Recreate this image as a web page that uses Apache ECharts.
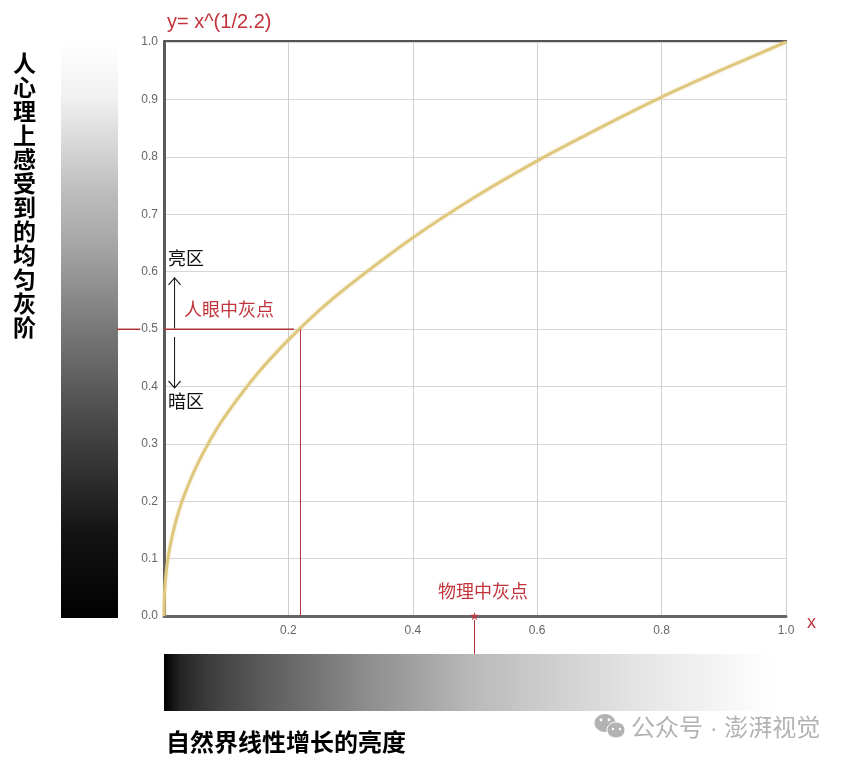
<!DOCTYPE html>
<html><head><meta charset="utf-8">
<style>html,body{margin:0;padding:0;background:#fff}#c{width:847px;height:761px}</style>
<script src="https://cdn.jsdelivr.net/npm/echarts@6/dist/echarts.min.js"></script>
</head><body><div id="c"></div>
<script>
const curveX=[0,0.0005,0.001,0.002,0.005,0.01,0.02,0.03,0.05,0.075,0.1,0.15,0.2,0.25,0.3,0.4,0.5,0.6,0.7,0.8,0.9,1.0];
const curveY=[0,0.031,0.043,0.059,0.090,0.123,0.169,0.203,0.256,0.308,0.351,0.422,0.481,0.533,0.578,0.659,0.730,0.793,0.850,0.904,0.953,1.0];
const eyeGrayX=0.2194, eyeGrayY=0.4995, physGrayX=0.4992;
const upArrow=[[0.017,0.501],[0.017,0.589]];
const downArrow=[[0.017,0.4861],[0.017,0.3972]];
const hGradPos=[0,0.01,0.026,0.08,0.154,0.315,0.5,0.75,0.98,1];
const hGradGray=[0,0.05,0.14,0.25,0.35,0.54,0.73,0.89,1,1];
const vGradPos=[0,0.1,0.15,0.27,0.344,0.5,0.656,0.85,1];
const vGradGray=[1,0.94,0.88,0.73,0.66,0.47,0.29,0.08,0];
const labels={title:'y= x^(1/2.2)',xName:'x',eye:'人眼中灰点',phys:'物理中灰点',bright:'亮区',dark:'暗区',
  yTitle:'人心理上感受到的均匀灰阶',xTitle:'自然界线性增长的亮度',mark:'公众号 · 澎湃视觉'};
const RED='#c1343c', LINE='#b0323a', CJK='"Liberation Sans","Noto Sans CJK SC",sans-serif';
const chevUp='path://M0 10L7 0L14 10', chevDown='path://M0 0L7 10L14 0';
function arrow(pts,sym,off){return{type:'line',data:[pts[0],{value:pts[1],symbol:sym,symbolSize:[12,7],symbolOffset:[0,off]}],
  showSymbol:true,symbol:'none',clip:false,silent:true,z:6,
  lineStyle:{color:'#111',width:1},itemStyle:{color:'rgba(0,0,0,0)',borderColor:'#111',borderWidth:1}};}
function seg(a,w){return{type:'line',data:a,symbol:'none',clip:false,silent:true,z:4,lineStyle:{color:LINE,width:w||1}};}
const stops=(p,g)=>p.map((o,i)=>{const c=Math.round(g[i]*255);return{offset:o,color:'rgb('+c+','+c+','+c+')'};});
const chart=echarts.init(document.getElementById('c'),null,{renderer:'canvas'});
const axisLabel={color:'#666',fontSize:12,letterSpacing:0.5,fontFamily:'"Liberation Sans",sans-serif'};
chart.setOption({
  animation:false,backgroundColor:'#fff',
  grid:{left:164,top:42,width:622,height:574,containLabel:false},
  xAxis:[{type:'value',min:0,max:1,interval:0.2,position:'bottom',
    axisLine:{show:true,onZero:false,lineStyle:{color:'#666',width:3}},axisTick:{show:false},
    axisLabel:{...axisLabel,margin:9,formatter:v=>v===0?'':v.toFixed(1)},
    splitLine:{show:true,lineStyle:{color:'#cfcfcf',width:1}}},
   {type:'value',min:0,max:1,position:'top',offset:1,axisLine:{show:true,onZero:false,lineStyle:{color:'#555',width:2}},
    axisTick:{show:false},axisLabel:{show:false},splitLine:{show:false}}],
  yAxis:{type:'value',min:0,max:1,interval:0.1,
    axisLine:{show:true,onZero:false,lineStyle:{color:'#5a5a5a',width:3}},axisTick:{show:false},
    axisLabel:{...axisLabel,margin:6,formatter:v=>v.toFixed(1)},
    splitLine:{show:true,lineStyle:{color:'#d6d6d6',width:1}}},
  series:[
    {type:'line',data:curveX.map((x,i)=>[x,curveY[i]]),smooth:0.25,symbol:'none',z:3,silent:true,
      lineStyle:{color:'#dfc87e',width:3,shadowColor:'rgba(223,200,126,0.45)',shadowBlur:3}},
    seg([[0,eyeGrayY],[0.209,eyeGrayY]],1.5),
    seg([[eyeGrayX,eyeGrayY],[eyeGrayX,0]]),
    seg([[physGrayX,-0.007],[physGrayX,-0.066]]),
    {type:'scatter',data:[[physGrayX,0]],symbol:'path://M5 0L6 3.5L10 3.5L7 6L8 10L5 7.5L2 10L3 6L0 3.5L4 3.5Z',symbolSize:9,z:20,silent:true,clip:false,
      itemStyle:{color:RED}},
    arrow(upArrow,chevUp,3.5),arrow(downArrow,chevDown,-3.5)
  ],
  graphic:[
    {type:'rect',z:1,shape:{x:61,y:42,width:57,height:576},style:{fill:new echarts.graphic.LinearGradient(0,0,0,1,stops(vGradPos,vGradGray))}},
    {type:'rect',z:1,shape:{x:164,y:654,width:622,height:57},style:{fill:new echarts.graphic.LinearGradient(0,0,1,0,stops(hGradPos,hGradGray))}},
    {type:'text',z:10,x:167,y:12,style:{text:labels.title,fill:RED,font:'20px '+CJK}},
    {type:'text',z:10,x:807,y:614,style:{text:labels.xName,fill:RED,font:'18px '+CJK}},
    {type:'text',z:10,x:184,y:302,style:{text:labels.eye,fill:RED,font:'18px '+CJK}},
    {type:'text',z:10,x:438,y:584,style:{text:labels.phys,fill:RED,font:'18px '+CJK}},
    {type:'text',z:10,x:168,y:251,style:{text:labels.bright,fill:'#111',font:'18px '+CJK}},
    {type:'text',z:10,x:168,y:394,style:{text:labels.dark,fill:'#111',font:'18px '+CJK}},
    {type:'text',z:10,x:13,y:54,style:{text:labels.yTitle.split('').join('\n'),fill:'#000',font:'bold 23px '+CJK,lineHeight:24}},
    {type:'text',z:10,x:166,y:732,style:{text:labels.xTitle,fill:'#000',font:'bold 24px '+CJK}},
    {type:'text',z:10,x:631,y:717,style:{text:labels.mark,fill:'#b3b3b3',font:'24px '+CJK}},
    {type:'ellipse',z:10,shape:{cx:605,cy:723,rx:10.5,ry:9},style:{fill:'#b3b3b3'}},
    {type:'ellipse',z:11,shape:{cx:616,cy:730,rx:9,ry:8},style:{fill:'#b3b3b3',stroke:'#fff',lineWidth:1}},
    {type:'circle',z:12,shape:{cx:601,cy:720,r:1.4},style:{fill:'#fff'}},
    {type:'circle',z:12,shape:{cx:609,cy:720,r:1.4},style:{fill:'#fff'}},
    {type:'circle',z:12,shape:{cx:613,cy:729,r:1.2},style:{fill:'#fff'}},
    {type:'circle',z:12,shape:{cx:620,cy:729,r:1.2},style:{fill:'#fff'}}
  ]
});
const a=chart.convertToPixel({xAxisIndex:0,yAxisIndex:0},[-0.0756,eyeGrayY]);
const b=chart.convertToPixel({xAxisIndex:0,yAxisIndex:0},[-0.038,eyeGrayY]);
chart.setOption({graphic:[{type:'line',id:'leftTick',z:10,shape:{x1:a[0],y1:a[1],x2:b[0],y2:b[1]},style:{stroke:LINE,lineWidth:1.5}}]});
</script></body></html>
